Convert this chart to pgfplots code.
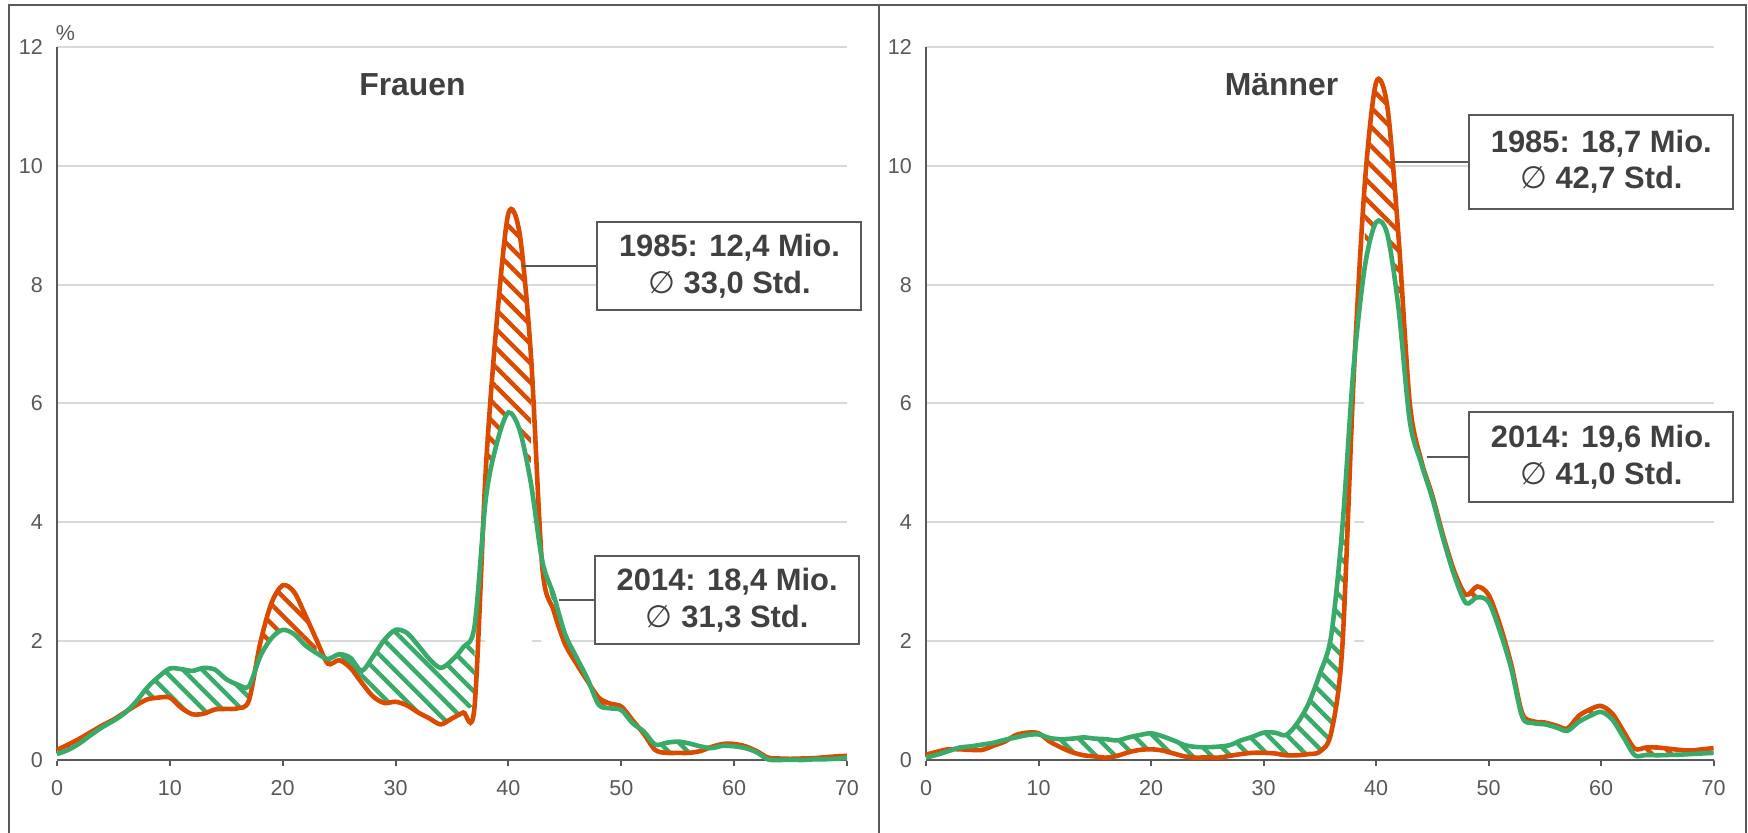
\documentclass[border=0pt]{standalone}
\usepackage{pgfplots}
\usepackage{pgfplotstable}
\pgfplotsset{compat=1.18}
\usetikzlibrary{patterns.meta}
\usepackage{fontspec}
\setmainfont{Liberation Sans}
\newfontfamily\symf{DejaVu Sans}
\definecolor{orcol}{RGB}{218,75,0}
\definecolor{grcol}{RGB}{58,170,106}
\definecolor{txt}{RGB}{64,64,64}
\definecolor{axgray}{RGB}{89,89,89}
\definecolor{gridgray}{RGB}{217,217,217}

\pgfplotstableread{
x o g
0 0.17 0.10
1 0.26 0.17
2 0.36 0.28
3 0.47 0.42
4 0.58 0.55
5 0.68 0.66
6 0.80 0.79
7 0.92 0.98
8 1.02 1.22
9 1.05 1.40
10 1.05 1.54
11 0.88 1.53
12 0.77 1.50
13 0.78 1.55
14 0.85 1.52
15 0.86 1.36
16 0.87 1.27
17 1.00 1.24
18 1.96 1.74
19 2.64 2.05
20 2.94 2.19
21 2.83 2.12
22 2.44 1.93
23 2.02 1.80
24 1.62 1.70
25 1.68 1.78
26 1.55 1.72
27 1.30 1.50
28 1.07 1.74
29 0.96 2.02
30 0.98 2.19
31 0.92 2.14
32 0.80 1.93
33 0.70 1.70
34 0.60 1.55
35 0.70 1.68
36 0.80 1.90
37 0.90 2.25
38 4.90 4.40
39 7.45 5.35
40 9.20 5.85
41 8.85 5.55
42 6.80 4.65
43 3.25 3.35
44 2.52 2.78
45 1.96 2.13
46 1.63 1.74
47 1.33 1.37
48 1.05 0.93
49 0.95 0.87
50 0.90 0.84
51 0.67 0.62
52 0.44 0.48
53 0.17 0.26
54 0.12 0.29
55 0.12 0.31
56 0.12 0.28
57 0.15 0.23
58 0.22 0.20
59 0.27 0.24
60 0.27 0.23
61 0.23 0.20
62 0.15 0.13
63 0.04 0.01
64 0.025 0.00
65 0.02 0.005
66 0.025 0.00
67 0.03 0.01
68 0.045 0.012
69 0.06 0.02
70 0.07 0.035
}\frauen

\pgfplotstableread{
x o g
0 0.09 0.04
1 0.14 0.09
2 0.18 0.15
3 0.18 0.21
4 0.17 0.23
5 0.17 0.26
6 0.24 0.29
7 0.31 0.34
8 0.42 0.38
9 0.46 0.42
10 0.45 0.43
11 0.31 0.37
12 0.21 0.35
13 0.13 0.36
14 0.08 0.38
15 0.06 0.36
16 0.04 0.35
17 0.07 0.33
18 0.13 0.38
19 0.17 0.42
20 0.18 0.45
21 0.16 0.40
22 0.11 0.33
23 0.06 0.25
24 0.04 0.22
25 0.045 0.215
26 0.04 0.225
27 0.07 0.25
28 0.10 0.33
29 0.12 0.39
30 0.12 0.46
31 0.11 0.46
32 0.08 0.42
33 0.08 0.62
34 0.10 0.95
35 0.14 1.45
36 0.45 2.08
37 1.90 3.90
38 6.40 6.60
39 9.70 8.30
40 11.40 9.05
41 11.00 8.85
42 8.80 7.60
43 6.00 5.70
44 5.05 5.00
45 4.45 4.40
46 3.75 3.70
47 3.15 3.08
48 2.78 2.64
49 2.92 2.74
50 2.78 2.66
51 2.28 2.17
52 1.62 1.55
53 0.78 0.72
54 0.65 0.62
55 0.63 0.60
56 0.58 0.55
57 0.53 0.49
58 0.74 0.64
59 0.85 0.74
60 0.91 0.81
61 0.78 0.68
62 0.48 0.38
63 0.19 0.08
64 0.21 0.085
65 0.21 0.08
66 0.19 0.085
67 0.17 0.09
68 0.16 0.10
69 0.18 0.11
70 0.20 0.12
}\maenner

\pgfplotsset{
  panel/.style={
    scale only axis, anchor=south west,
    height=178.25bp,
    xmin=0, xmax=70, ymin=0, ymax=12,
    xtick={0,10,...,70}, ytick={0,2,...,12},
    axis x line*=bottom, axis y line*=left,
    axis line style={-, axgray, line width=0.55bp},
    ymajorgrids, grid style={gridgray, line width=0.5bp},
    ytick style={draw=none},
    xtick style={axgray, line width=0.5bp},
    xtick align=outside, major tick length=1.5bp,
    tick label style={font=\fontsize{5.4}{6.2}\selectfont, text=axgray},
    /pgf/number format/assume math mode=true,
    clip=false,
  },
  orline/.style={orcol, line width=1.15bp, smooth},
  grline/.style={grcol, line width=1.15bp, smooth},
  hatch/.style={draw=none, pattern={Lines[angle=-45, distance=3.4bp, line width=1.1bp]}},
}
\tikzset{
  lbl/.style={draw=axgray, line width=0.5bp, fill=white, text=txt,
    font=\bfseries\fontsize{7.75}{9.2}\selectfont, align=center,
    minimum width=66bp, minimum height=22bp, anchor=west, inner sep=0pt},
  ttl/.style={text=txt, font=\bfseries\fontsize{8}{9}\selectfont, anchor=base},
}
% hatched band between two series of a table over a domain:
% #1 table, #2 upper column, #3 lower column, #4 domain, #5 colour
\newcommand{\hseg}[5]{%
  \addplot[fill=white, draw=none, smooth, restrict x to domain=#4, forget plot] table[x=x, y=#2] {#1} \closedcycle;
  \addplot[hatch, pattern color=#5, smooth, restrict x to domain=#4, forget plot] table[x=x, y=#2] {#1} \closedcycle;
  \addplot[fill=white, draw=white, line width=0.4bp, smooth, restrict x to domain=#4, forget plot] table[x=x, y=#3] {#1} \closedcycle;
}

\begin{document}
\begin{tikzpicture}
\useasboundingbox (0,0) rectangle (437bp,208.25bp);
% frame
\draw[axgray, line width=0.5bp] (2.25bp,-1bp) -- (2.25bp,207bp) -- (436.5bp,207bp) -- (436.5bp,-1bp);
\draw[axgray, line width=0.5bp] (219.75bp,-1bp) -- (219.75bp,207bp);

\begin{axis}[panel, at={(14.25bp,18.25bp)}, width=197.5bp]
\hseg{\frauen}{o}{g}{0:6}{orcol}
\hseg{\frauen}{g}{o}{7:17}{grcol}
\hseg{\frauen}{o}{g}{18:23}{orcol}
\hseg{\frauen}{g}{o}{24:37}{grcol}
\hseg{\frauen}{o}{g}{38:42}{orcol}
\hseg{\frauen}{g}{o}{43:47}{grcol}
\hseg{\frauen}{o}{g}{48:51}{orcol}
\hseg{\frauen}{g}{o}{52:57}{grcol}
\hseg{\frauen}{o}{g}{58:70}{orcol}
\draw[axgray, line width=0.55bp] (axis cs:0,0) -- (axis cs:70,0);
\addplot[orline] table[x=x, y=o] {\frauen};
\addplot[grline] table[x=x, y=g] {\frauen};
\node[text=axgray, font=\fontsize{5.4}{6.2}\selectfont, anchor=base west, inner sep=0pt] at (axis cs:0,12) [yshift=1.5bp, xshift=-0.5bp] {\%};
\node[ttl] at (axis cs:31.5,11.19) {Frauen};
\draw[axgray, line width=0.5bp] (axis cs:41.2,8.31) -- (axis cs:47.8,8.31);
\node[lbl] at (axis cs:47.8,8.31) {1985: 12,4 Mio.\\{\symf\mdseries ∅} 33,0 Std.};
\draw[axgray, line width=0.5bp] (axis cs:44.5,2.69) -- (axis cs:47.6,2.69);
\node[lbl] at (axis cs:47.6,2.69) {2014: 18,4 Mio.\\{\symf\mdseries ∅} 31,3 Std.};
\end{axis}

\begin{axis}[panel, at={(231.5bp,18.25bp)}, width=196.9bp]
\hseg{\maenner}{o}{g}{0:2}{orcol}
\hseg{\maenner}{g}{o}{3:7}{grcol}
\hseg{\maenner}{o}{g}{8:10}{orcol}
\hseg{\maenner}{g}{o}{11:38}{grcol}
\hseg{\maenner}{o}{g}{39:70}{orcol}
\draw[axgray, line width=0.55bp] (axis cs:0,0) -- (axis cs:70,0);
\addplot[orline] table[x=x, y=o] {\maenner};
\addplot[grline] table[x=x, y=g] {\maenner};
\node[ttl] at (axis cs:31.6,11.19) {Männer};
\draw[axgray, line width=0.5bp] (axis cs:41.66,10.07) -- (axis cs:48.2,10.07);
\node[lbl, minimum height=23.5bp] at (axis cs:48.2,10.07) {1985: 18,7 Mio.\\{\symf\mdseries ∅} 42,7 Std.};
\draw[axgray, line width=0.5bp] (axis cs:44.5,5.1) -- (axis cs:48.2,5.1);
\node[lbl, minimum height=22.5bp] at (axis cs:48.2,5.1) {2014: 19,6 Mio.\\{\symf\mdseries ∅} 41,0 Std.};
\end{axis}
\end{tikzpicture}
\end{document}
